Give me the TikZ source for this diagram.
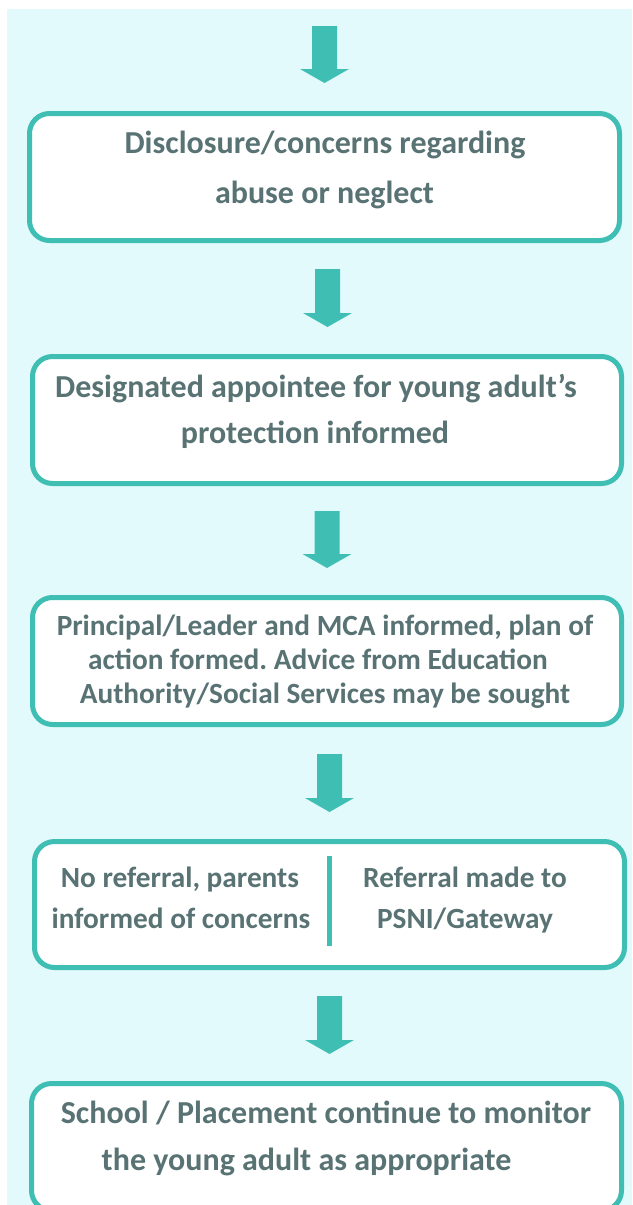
\documentclass[tikz,border=0pt]{standalone}
\usepackage{fontspec}
\setmainfont{Carlito}
\usetikzlibrary{calc}
\frenchspacing
\definecolor{bgcol}{HTML}{E3FAFC}
\definecolor{tealcol}{HTML}{3FBFB4}
\definecolor{txtcol}{HTML}{597374}
\newcommand\flowarrow[2]{%
  \fill[tealcol] let \p1=(#1), \p2=(#2) in
    (\x1-12.5pt,\y1) -- (\x1+12.5pt,\y1) -- (\x1+12.5pt,\y2+14pt) --
    (\x1+24.5pt,\y2+14pt) -- (\x1,\y2) -- (\x1-24.5pt,\y2+14pt) --
    (\x1-12.5pt,\y2+14pt) -- cycle;}
\begin{document}
\begin{tikzpicture}[x=1pt,y=-1pt,
  flowbox/.style={draw=tealcol, line width=5pt, fill=white, rounded corners=20pt,
    inner sep=0pt, minimum height=127pt},
  bigtxt/.style={text=txtcol, font=\fontsize{32}{38}\selectfont\bfseries\frenchspacing, anchor=base, inner sep=0pt},
  midtxt/.style={text=txtcol, font=\fontsize{29.3}{35}\selectfont\bfseries\frenchspacing, anchor=base, inner sep=0pt}]
\useasboundingbox (0,0) rectangle (632,1205);
\clip (0,0) rectangle (632,1205);
\fill[bgcol] (7,9) rectangle (632,1205);

% boxes
\node[flowbox, minimum width=590pt] (b1) at (324.5,177) {};
\node[flowbox, minimum width=589pt] (b2) at (327,420) {};
\node[flowbox, minimum width=589pt] (b3) at (327,661) {};
\node[flowbox, minimum width=590pt, minimum height=126pt] (b4) at (329.5,904.5) {};
\node[flowbox, minimum width=590pt] (b5) at (326.5,1147) {};

% arrow end points
\coordinate (s1) at (324.5,26);   \coordinate (e1) at (324.5,83);
\coordinate (s2) at (327.5,269);  \coordinate (e2) at (327.5,327);
\coordinate (s3) at (327,511);    \coordinate (e3) at (327,568);
\coordinate (s4) at (329.5,754);  \coordinate (e4) at (329.5,812);
\coordinate (s5) at (329.5,996);  \coordinate (e5) at (329.5,1054);
\flowarrow{s1}{e1}
\flowarrow{s2}{e2}
\flowarrow{s3}{e3}
\flowarrow{s4}{e4}
\flowarrow{s5}{e5}

% divider in box 4
\coordinate (d1) at (329.5,856);
\coordinate (d2) at (329.5,946);
\draw[tealcol, line width=5pt] (d1) -- (d2);

% texts
\node[bigtxt] (t11) at (325,153) {Disclosure/concerns regarding};
\node[bigtxt] (t12) at (324.5,203) {abuse or neglect};
\node[bigtxt] (t21) at (316,397) {Designated appointee for young adult’s};
\node[bigtxt] (t22) at (315,443) {protection informed};
\node[midtxt] (t31) at (325,635) {Principal/Leader and MCA informed, plan of};
\node[midtxt] (t32) at (318,669) {action formed. Advice from Education};
\node[midtxt] (t33) at (325,703) {Authority/Social Services may be sought};
\node[midtxt] (t41) at (180,887) {No referral, parents};
\node[midtxt] (t42) at (181,928) {informed of concerns};
\node[midtxt] (t43) at (465,887) {Referral made to};
\node[midtxt] (t44) at (465,928) {PSNI/Gateway};
\node[bigtxt] (t51) at (326,1123) {School / Placement continue to monitor};
\node[bigtxt] (t52) at (306.5,1170) {the young adult as appropriate};
\end{tikzpicture}
\end{document}
